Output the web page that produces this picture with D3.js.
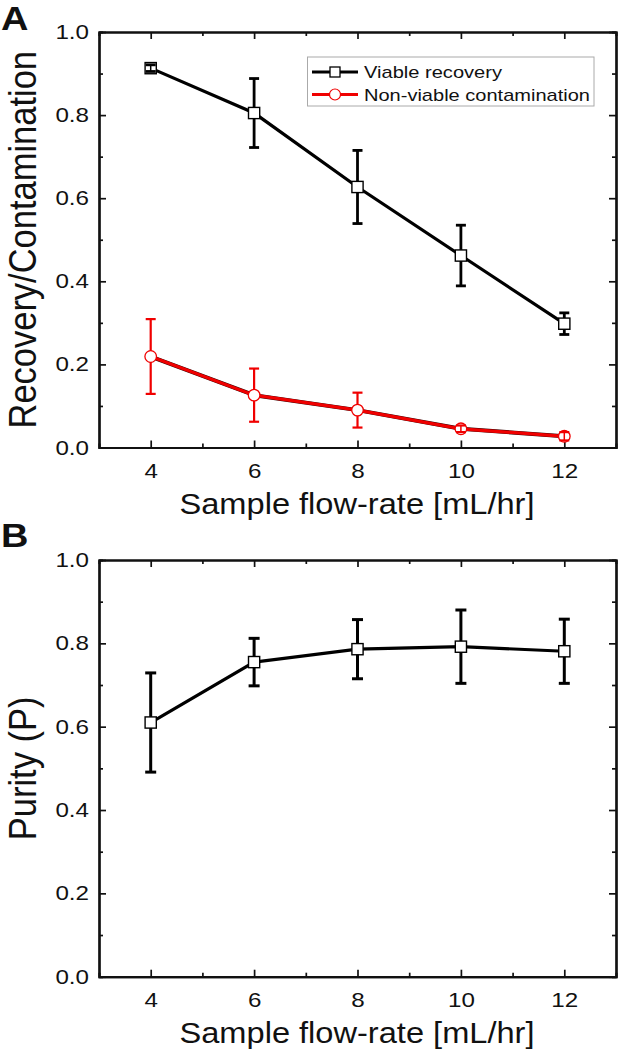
<!DOCTYPE html>
<html>
<head>
<meta charset="utf-8">
<script src="https://cdn.jsdelivr.net/npm/d3@7"></script>
<style>
body { margin:0; background:#fff; }
svg text { font-family:"Liberation Sans", Arial, sans-serif; fill:#111; }
</style>
</head>
<body>
<svg id="chart"></svg>
<script>
// values
var flowRate = [4, 6, 8, 10, 12];
var viable = [0.913, 0.805, 0.627, 0.462, 0.298];
var viableErr = [0.008, 0.083, 0.088, 0.073, 0.026];
var nonViable = [0.219, 0.126, 0.090, 0.045, 0.027];
var nonViableErr = [0.090, 0.064, 0.042, 0.008, 0.010];
var purity = [0.610, 0.755, 0.786, 0.792, 0.781];
var purityErr = [0.119, 0.057, 0.071, 0.088, 0.077];

var xTicks = [4, 6, 8, 10, 12];
var xMinor = [5, 7, 9, 11];
var yTicks = [0, 0.2, 0.4, 0.6, 0.8, 1.0];
var yMinor = [0.1, 0.3, 0.5, 0.7, 0.9];

var screen = {width:618, height:1050};
var svg = d3.select("#chart")
    .attr("width", screen.width)
    .attr("height", screen.height);

var x = d3.scaleLinear().domain([3, 13]).range([99, 616]);

// the original figure is a bit wider than tall, so text is stretched sideways
var stretch = function(sel, k)
{
    sel.each(function()
    {
        var len = this.getComputedTextLength();
        if (len > 0)
            d3.select(this).attr("textLength", len * k).attr("lengthAdjust", "spacingAndGlyphs");
    });
}

var drawFrame = function(y, label, panel, panelY, ylabel)
{
    var top = y.range()[1], bottom = y.range()[0];
    var g = svg.append("g");

    // minor ticks first
    g.append("g").attr("transform", "translate(0," + bottom + ")")
        .call(d3.axisBottom(x).tickValues(xMinor).tickSize(-4).tickFormat(""));
    g.append("g").attr("transform", "translate(0," + top + ")")
        .call(d3.axisTop(x).tickValues(xMinor).tickSize(-4).tickFormat(""));
    g.append("g").attr("transform", "translate(" + x.range()[0] + ",0)")
        .call(d3.axisLeft(y).tickValues(yMinor).tickSize(-4).tickFormat(""));
    g.append("g").attr("transform", "translate(" + x.range()[1] + ",0)")
        .call(d3.axisRight(y).tickValues(yMinor).tickSize(-4).tickFormat(""));

    g.append("g").attr("class", "xaxis")
        .attr("transform", "translate(0," + bottom + ")")
        .call(d3.axisBottom(x).tickValues(xTicks).tickSizeInner(-7).tickSizeOuter(0).tickPadding(16));
    g.append("g").attr("transform", "translate(0," + top + ")")
        .call(d3.axisTop(x).tickValues(xTicks).tickSizeInner(-7).tickSizeOuter(0).tickFormat(""));
    g.append("g").attr("class", "yaxis")
        .attr("transform", "translate(" + x.range()[0] + ",0)")
        .call(d3.axisLeft(y).tickValues(yTicks).tickSizeInner(-7).tickSizeOuter(0).tickPadding(10)
              .tickFormat(d3.format(".1f")));
    g.append("g").attr("transform", "translate(" + x.range()[1] + ",0)")
        .call(d3.axisRight(y).tickValues(yTicks).tickSizeInner(-7).tickSizeOuter(0).tickFormat(""));

    g.selectAll(".domain").attr("stroke", "#111").attr("stroke-width", 2.2);
    g.selectAll(".tick line").attr("stroke", "#111").attr("stroke-width", 1.7);
    g.selectAll(".tick text").attr("font-size", 20.5).attr("fill", "#111")
        .attr("font-family", "Liberation Sans, Arial, sans-serif")
        .call(stretch, 1.18);

    // x label
    svg.append("text")
        .attr("x", 357).attr("y", bottom + 66.5)
        .attr("text-anchor", "middle")
        .attr("font-size", 29)
        .attr("textLength", 355).attr("lengthAdjust", "spacingAndGlyphs")
        .text(label);

    // y label
    svg.append("text")
        .attr("transform", "translate(36," + ((top + bottom) / 2) + ") scale(1.15,1) rotate(-90)")
        .attr("text-anchor", "middle")
        .attr("font-size", 34.5)
        .text(ylabel);

    // panel letter
    svg.append("text")
        .attr("x", 1).attr("y", panelY)
        .attr("font-size", 33).attr("font-weight", "bold")
        .text(panel)
        .call(stretch, 1.15);
}

var drawSeries = function(y, values, errs, color, shape, errWidth, capW)
{
    var pts = flowRate.map(function(f, i) { return {f:f, v:values[i], e:errs[i]}; });
    var g = svg.append("g");
    var half = 5.6;

    // vertical error bars, from the marker edge outwards
    [-1, 1].forEach(function(s)
    {
        g.selectAll(".eb" + s).data(pts).enter().append("line")
            .attr("x1", function(d) { return x(d.f); })
            .attr("x2", function(d) { return x(d.f); })
            .attr("y1", function(d) { return y(d.v); })
            .attr("y2", function(d) { return y(d.v + s * d.e); })
            .attr("stroke", color).attr("stroke-width", errWidth);
    });

    var line = d3.line().x(function(d) { return x(d.f); }).y(function(d) { return y(d.v); });
    if (color != "#000")
    {
        g.append("path").datum(pts).attr("d", line)
            .attr("fill", "none").attr("stroke", "#300").attr("stroke-width", 4);
    }
    g.append("path").datum(pts).attr("d", line)
        .attr("fill", "none").attr("stroke", color).attr("stroke-width", 3.2);

    if (shape == "square")
    {
        g.selectAll(".m").data(pts).enter().append("rect")
            .attr("x", function(d) { return x(d.f) - half; })
            .attr("y", function(d) { return y(d.v) - half; })
            .attr("width", half * 2).attr("height", half * 2)
            .attr("fill", "#fff").attr("stroke", "#000").attr("stroke-width", 1.4);
    }
    else
    {
        g.selectAll(".m").data(pts).enter().append("circle")
            .attr("cx", function(d) { return x(d.f); })
            .attr("cy", function(d) { return y(d.v); })
            .attr("r", 5.8)
            .attr("fill", "#fff").attr("stroke", color).attr("stroke-width", 1.3);
    }

    // small errors stay visible inside the marker
    var small = pts.filter(function(d) { return y(d.v - d.e) - y(d.v) < half; });
    g.selectAll(".ein").data(small).enter().append("line")
        .attr("x1", function(d) { return x(d.f); })
        .attr("x2", function(d) { return x(d.f); })
        .attr("y1", function(d) { return y(d.v - d.e); })
        .attr("y2", function(d) { return y(d.v + d.e); })
        .attr("stroke", color).attr("stroke-width", 1.5);

    // caps on top
    [-1, 1].forEach(function(s)
    {
        g.selectAll(".cap" + s).data(pts).enter().append("line")
            .attr("x1", function(d) { return x(d.f) - capW / 2; })
            .attr("x2", function(d) { return x(d.f) + capW / 2; })
            .attr("y1", function(d) { return y(d.v + s * d.e); })
            .attr("y2", function(d) { return y(d.v + s * d.e); })
            .attr("stroke", color).attr("stroke-width", errWidth);
    });
}

// Panel A
var yA = d3.scaleLinear().domain([0, 1]).range([447.5, 32]);
drawFrame(yA, "Sample flow-rate [mL/hr]", "A", 30, "Recovery/Contamination");
drawSeries(yA, viable, viableErr, "#000", "square", 2.8, 10);
drawSeries(yA, nonViable, nonViableErr, "#f00000", "circle", 2.2, 10);

// legend
var legend = svg.append("g");
legend.append("rect")
    .attr("x", 307.5).attr("y", 57).attr("width", 286.5).attr("height", 49)
    .attr("fill", "#fff").attr("stroke", "#aaa").attr("stroke-width", 1);
var legendItems = [
    {name:"Viable recovery", color:"#000", shape:"square", y:72, len:138},
    {name:"Non-viable contamination", color:"#f00000", shape:"circle", y:94.5, len:226}
];
legendItems.forEach(function(item)
{
    legend.append("line")
        .attr("x1", 312).attr("x2", 358).attr("y1", item.y).attr("y2", item.y)
        .attr("stroke", item.color).attr("stroke-width", 3);
    if (item.shape == "square")
    {
        legend.append("rect").attr("x", 330).attr("y", item.y - 5).attr("width", 10).attr("height", 10)
            .attr("fill", "#fff").attr("stroke", "#000").attr("stroke-width", 1.3);
    }
    else
    {
        legend.append("circle").attr("cx", 335).attr("cy", item.y).attr("r", 5.5)
            .attr("fill", "#fff").attr("stroke", item.color).attr("stroke-width", 1.2);
    }
    legend.append("text")
        .attr("x", 364).attr("y", item.y + 6)
        .attr("font-size", 17)
        .attr("textLength", item.len).attr("lengthAdjust", "spacingAndGlyphs")
        .text(item.name);
});

// Panel B
var yB = d3.scaleLinear().domain([0, 1]).range([976.7, 560]);
drawFrame(yB, "Sample flow-rate [mL/hr]", "B", 547, "Purity (P)");
drawSeries(yB, purity, purityErr, "#000", "square", 3, 11);
</script>
</body>
</html>
